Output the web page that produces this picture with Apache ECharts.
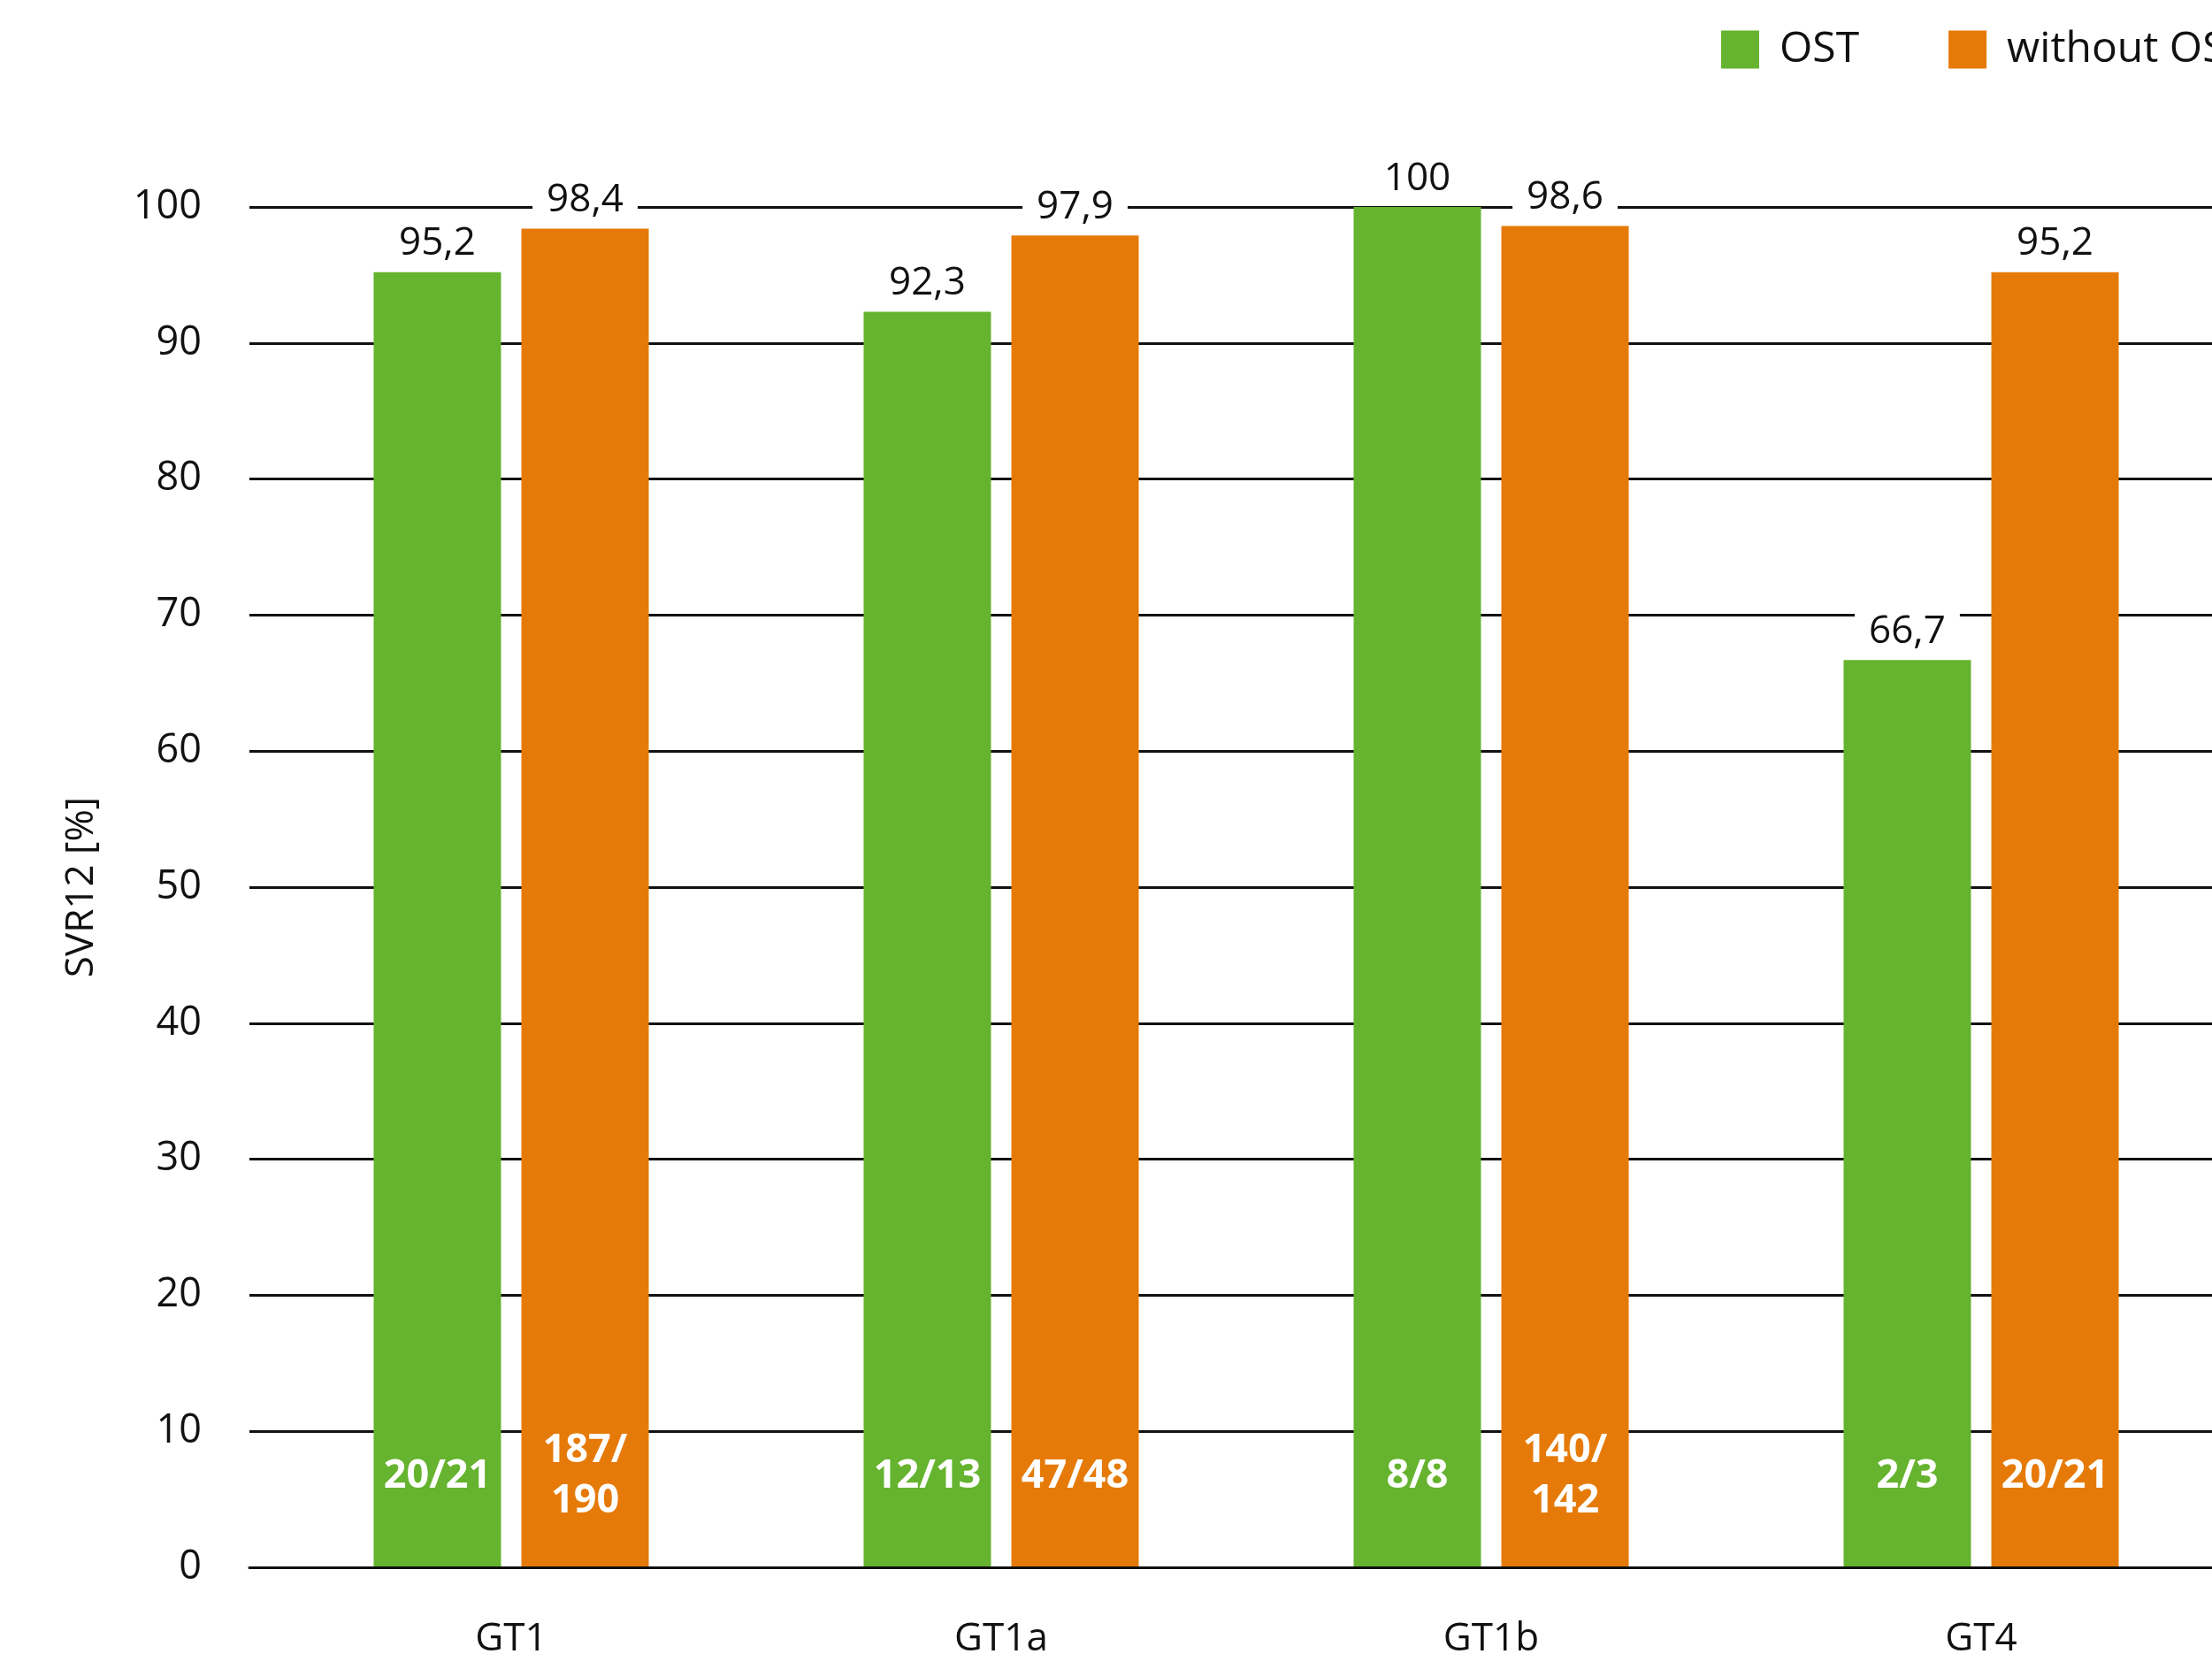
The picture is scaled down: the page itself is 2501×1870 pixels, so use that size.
<!DOCTYPE html>
<html>
<head>
<meta charset="utf-8">
<script src="https://cdn.jsdelivr.net/npm/echarts@6/dist/echarts.min.js"></script>
<style>html,body{margin:0;padding:0;background:#fff}#c{width:2501px;height:1870px}</style>
</head>
<body>
<div id="c"></div>
<script>
const categories = ['GT1', 'GT1a', 'GT1b', 'GT4'];
const seriesNames = ['OST', 'without OST'];
const ostValues = [95.2, 92.3, 100, 66.7];
const withoutValues = [98.4, 97.9, 98.6, 95.2];
const ostCounts = ['20/21', '12/13', '8/8', '2/3'];
const withoutCounts = ['187/\n190', '47/48', '140/\n142', '20/21'];
const yTicks = [0, 10, 20, 30, 40, 50, 60, 70, 80, 90, 100];

const FONT = '"Open Sans", sans-serif';
const TXT = '#111';
const GREEN = '#65B32E';
const ORANGE = '#E67A08';
const BAR_W = 144;
const BAR_GAP = '16%';

function fmt(v) { return String(v).replace('.', ','); }

function buildData(values, counts) {
  return values.map((v, i) => {
    const twoLine = counts[i].indexOf('\n') >= 0;
    return {
      value: v,
      label: {
        show: true,
        position: 'insideBottom',
        distance: twoLine ? 46 : 74,
        formatter: counts[i],
        color: '#fff',
        fontFamily: FONT,
        fontWeight: 'bold',
        fontSize: 45,
        lineHeight: 57
      }
    };
  });
}

function topLabelSeries(values) {
  return {
    type: 'bar',
    xAxisIndex: 2, yAxisIndex: 2,
    barWidth: BAR_W,
    barGap: BAR_GAP,
    itemStyle: { color: 'rgba(0,0,0,0)' },
    silent: true,
    legendHoverLink: false,
    data: values,
    label: {
      show: true, position: 'top', distance: 8,
      formatter: p => fmt(p.value),
      color: TXT, fontFamily: FONT, fontSize: 44,
      backgroundColor: '#fff', padding: [2, 16, 2, 16]
    },
    z: 6
  };
}

const gridPlot = { top: 234, bottom: 98, outerBoundsMode: 'none', containLabel: false };
const chart = echarts.init(document.getElementById('c'), null, { renderer: 'canvas' });
chart.setOption({
  animation: false,
  backgroundColor: '#fff',
  legend: {
    left: 1946, top: 32, width: 1200,
    itemWidth: 43, itemHeight: 43, itemGap: 101,
    padding: 0,
    icon: 'rect',
    data: seriesNames,
    textStyle: { fontFamily: FONT, fontSize: 48, color: TXT, padding: [0, 0, 0, 18] }
  },
  grid: [
    Object.assign({ left: 282, width: 2400 }, gridPlot),
    Object.assign({ left: 301, width: 2216 }, gridPlot),
    Object.assign({ left: 301, width: 2216 }, gridPlot)
  ],
  xAxis: [
    {
      type: 'category', gridIndex: 0, data: categories,
      axisLine: { show: true, lineStyle: { color: '#111', width: 3 } },
      axisTick: { show: false }, axisLabel: { show: false },
      z: 10
    },
    {
      type: 'category', gridIndex: 1, data: categories,
      axisLine: { show: false }, axisTick: { show: false },
      axisLabel: { fontFamily: FONT, fontSize: 44, color: TXT, margin: 59 }
    },
    { type: 'category', gridIndex: 2, data: categories, show: false }
  ],
  yAxis: [
    {
      type: 'value', gridIndex: 0, min: yTicks[0], max: yTicks[yTicks.length - 1], interval: 10,
      name: 'SVR12 [%]', nameLocation: 'middle', nameGap: 168, nameRotate: 90,
      nameTextStyle: { fontFamily: FONT, fontSize: 44, color: TXT },
      axisLine: { show: false }, axisTick: { show: false },
      axisLabel: { fontFamily: FONT, fontSize: 45, color: TXT, margin: 54 },
      splitLine: { show: true, lineStyle: { color: '#111', width: 3 } }
    },
    {
      type: 'value', gridIndex: 1, min: yTicks[0], max: yTicks[yTicks.length - 1], interval: 10,
      show: false, splitLine: { show: false }
    },
    {
      type: 'value', gridIndex: 2, min: yTicks[0], max: yTicks[yTicks.length - 1], interval: 10,
      show: false, splitLine: { show: false }
    }
  ],
  series: [
    {
      name: seriesNames[0], type: 'bar', xAxisIndex: 1, yAxisIndex: 1,
      barWidth: BAR_W, barGap: BAR_GAP,
      itemStyle: { color: GREEN },
      data: buildData(ostValues, ostCounts), z: 3
    },
    {
      name: seriesNames[1], type: 'bar', xAxisIndex: 1, yAxisIndex: 1,
      barWidth: BAR_W, barGap: BAR_GAP,
      itemStyle: { color: ORANGE },
      data: buildData(withoutValues, withoutCounts), z: 3
    },
    topLabelSeries(ostValues),
    topLabelSeries(withoutValues)
  ]
});
</script>
</body>
</html>
